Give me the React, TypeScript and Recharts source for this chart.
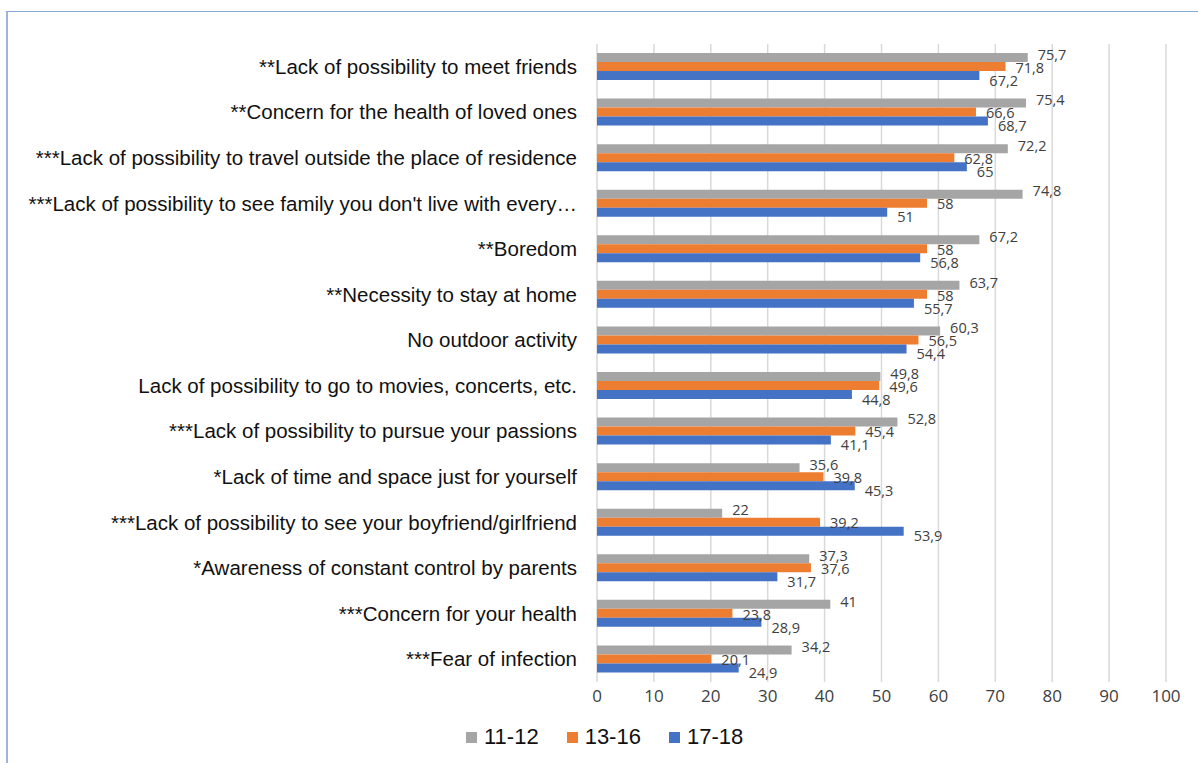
import { BarChart, Bar, XAxis, YAxis, CartesianGrid, LabelList } from 'recharts';

const categories = [
  '**Lack of possibility to meet friends',
  '**Concern for the health of loved ones',
  '***Lack of possibility to travel outside the place of residence',
  "***Lack of possibility to see family you don't live with every…",
  '**Boredom',
  '**Necessity to stay at home',
  'No outdoor activity',
  'Lack of possibility to go to movies, concerts, etc.',
  '***Lack of possibility to pursue your passions ',
  '*Lack of time and space just for yourself',
  '***Lack of possibility to see your boyfriend/girlfriend',
  '*Awareness of constant control by parents',
  '***Concern for your health',
  '***Fear of infection',
];

const age1112 = [75.7, 75.4, 72.2, 74.8, 67.2, 63.7, 60.3, 49.8, 52.8, 35.6, 22, 37.3, 41, 34.2];
const age1316 = [71.8, 66.6, 62.8, 58, 58, 58, 56.5, 49.6, 45.4, 39.8, 39.2, 37.6, 23.8, 20.1];
const age1718 = [67.2, 68.7, 65, 51, 56.8, 55.7, 54.4, 44.8, 41.1, 45.3, 53.9, 31.7, 28.9, 24.9];

const xTicks = [0, 10, 20, 30, 40, 50, 60, 70, 80, 90, 100];

const series = [
  { key: 'a', name: '11-12', color: '#A5A5A5', dy: -3 },
  { key: 'b', name: '13-16', color: '#ED7D31', dy: 1 },
  { key: 'c', name: '17-18', color: '#4472C4', dy: 5 },
];

const data = categories.map((cat, i) => ({
  cat,
  a: age1112[i],
  b: age1316[i],
  c: age1718[i],
}));

const fmt = (v: any) => String(v).replace('.', ',');

function CatTick(props: any) {
  const { x, y, payload } = props;
  return (
    <text x={x - 12} y={y} dy={7} textAnchor="end" fontSize={20.5}
      fontFamily="'Liberation Sans', Arial, sans-serif" fill="#111">
      {payload.value}
    </text>
  );
}

export default function App() {
  return (
    <div style={{ position: 'absolute', left: 0, top: 0, width: 1198, height: 763, background: '#fff', overflow: 'hidden' }}>
      <BarChart width={1198} height={763} data={data} layout="vertical"
        margin={{ top: 44, right: 32, bottom: 51, left: 7 }} barGap={0} barSize={9}>
        <CartesianGrid horizontal={false} stroke="#D9D9D9" strokeWidth={1.5} />
        <XAxis type="number" domain={[0, 100]} ticks={xTicks} axisLine={false} tickLine={false}
          height={30} tick={{ fontSize: 17, fill: '#404040', fontFamily: "'Open Sans', sans-serif" }} />
        <YAxis type="category" dataKey="cat" width={590} axisLine={false} tickLine={false}
          tick={<CatTick />} interval={0} />
        {series.map(s => (
          <Bar key={s.key} dataKey={s.key} name={s.name} fill={s.color} isAnimationActive={false}>
            <LabelList dataKey={s.key} position="right" offset={10} formatter={fmt}
              style={{ fontSize: 14.5, fill: '#404040', fontFamily: "'Open Sans', sans-serif" }}
              dy={s.dy} />
          </Bar>
        ))}
      </BarChart>
      <div style={{ position: 'absolute', left: 466, top: 724, display: 'flex', gap: 28,
        fontFamily: "'Liberation Sans', Arial, sans-serif", fontSize: 22, color: '#111' }}>
        {series.map(s => (
          <div key={s.key} style={{ display: 'flex', alignItems: 'center', gap: 7 }}>
            <span style={{ width: 11, height: 11, background: s.color, display: 'inline-block' }} />
            <span>{s.name}</span>
          </div>
        ))}
      </div>
      <div style={{ position: 'absolute', left: 6, top: 11, width: 2, height: 752, zIndex: 5, background: '#9DB3E0' }} />
      <div style={{ position: 'absolute', left: 6, top: 11, width: 1192, height: 1, zIndex: 5, background: '#8EA9DB' }} />
    </div>
  );
}
